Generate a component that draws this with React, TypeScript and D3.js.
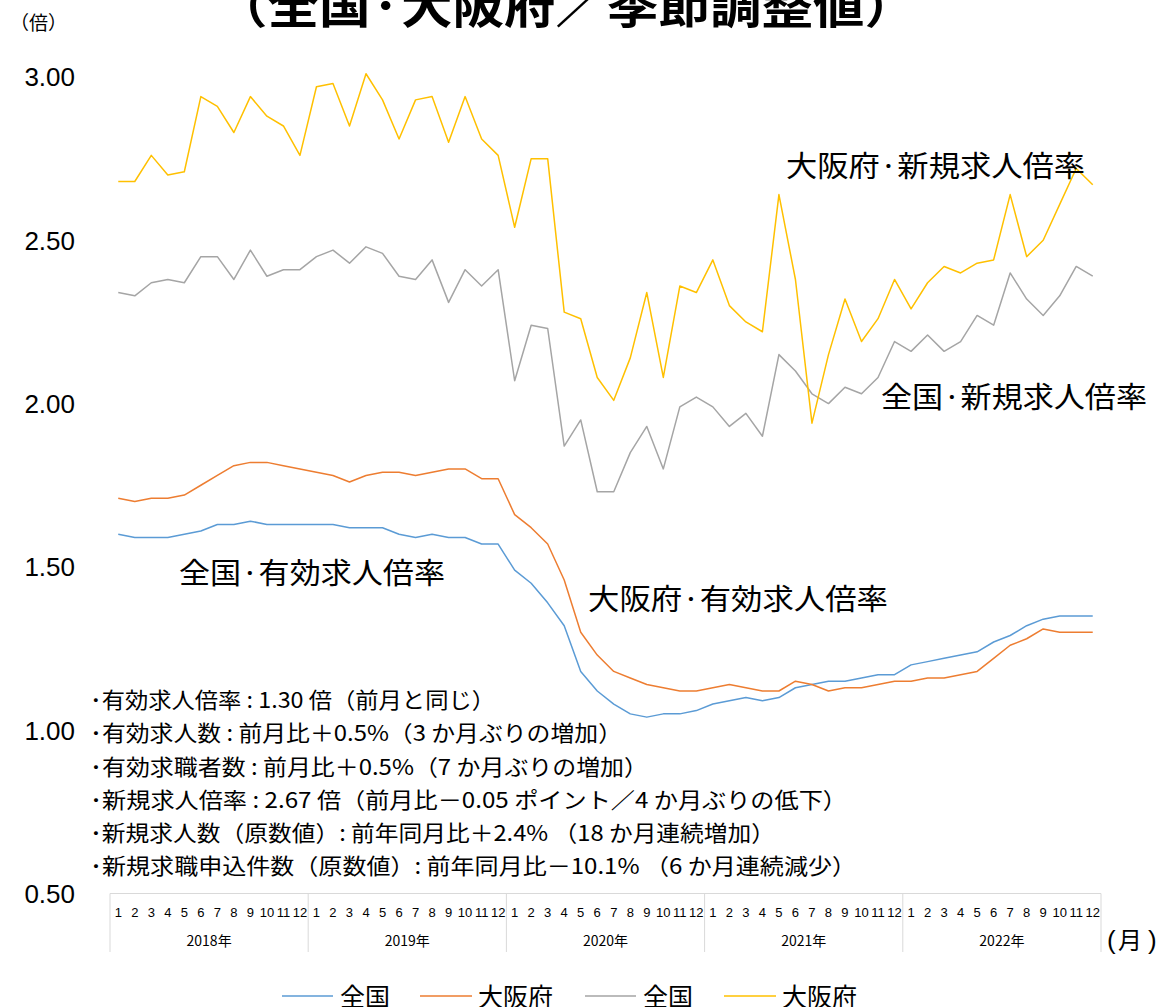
import React from "react";
import * as d3 from "d3";

const years = ["2018年", "2019年", "2020年", "2021年", "2022年"];
const monthLabels = ["1", "2", "3", "4", "5", "6", "7", "8", "9", "10", "11", "12"];
const yTicks = [0.5, 1.0, 1.5, 2.0, 2.5, 3.0];

const nationalEffective = [
  1.60, 1.59, 1.59, 1.59, 1.60, 1.61, 1.63, 1.63, 1.64, 1.63, 1.63, 1.63,
  1.63, 1.63, 1.62, 1.62, 1.62, 1.60, 1.59, 1.60, 1.59, 1.59, 1.57, 1.57,
  1.49, 1.45, 1.39, 1.32, 1.18, 1.12, 1.08, 1.05, 1.04, 1.05, 1.05, 1.06,
  1.08, 1.09, 1.10, 1.09, 1.10, 1.13, 1.14, 1.15, 1.15, 1.16, 1.17, 1.17,
  1.20, 1.21, 1.22, 1.23, 1.24, 1.27, 1.29, 1.32, 1.34, 1.35, 1.35, 1.35,
];
const osakaEffective = [
  1.71, 1.70, 1.71, 1.71, 1.72, 1.75, 1.78, 1.81, 1.82, 1.82, 1.81, 1.80,
  1.79, 1.78, 1.76, 1.78, 1.79, 1.79, 1.78, 1.79, 1.80, 1.80, 1.77, 1.77,
  1.66, 1.62, 1.57, 1.46, 1.30, 1.23, 1.18, 1.16, 1.14, 1.13, 1.12, 1.12,
  1.13, 1.14, 1.13, 1.12, 1.12, 1.15, 1.14, 1.12, 1.13, 1.13, 1.14, 1.15,
  1.15, 1.16, 1.16, 1.17, 1.18, 1.22, 1.26, 1.28, 1.31, 1.30, 1.30, 1.30,
];
const nationalNew = [
  2.34, 2.33, 2.37, 2.38, 2.37, 2.45, 2.45, 2.38, 2.47, 2.39, 2.41, 2.41,
  2.45, 2.47, 2.43, 2.48, 2.46, 2.39, 2.38, 2.44, 2.31, 2.41, 2.36, 2.41,
  2.07, 2.24, 2.23, 1.87, 1.95, 1.73, 1.73, 1.85, 1.93, 1.80, 1.99, 2.02,
  1.99, 1.93, 1.97, 1.90, 2.15, 2.10, 2.03, 2.00, 2.05, 2.03, 2.08, 2.19,
  2.16, 2.21, 2.16, 2.19, 2.27, 2.24, 2.40, 2.32, 2.27, 2.33, 2.42, 2.39,
];
const osakaNew = [
  2.68, 2.68, 2.76, 2.70, 2.71, 2.94, 2.91, 2.83, 2.94, 2.88, 2.85, 2.76,
  2.97, 2.98, 2.85, 3.01, 2.93, 2.81, 2.93, 2.94, 2.80, 2.94, 2.81, 2.76,
  2.54, 2.75, 2.75, 2.28, 2.26, 2.08, 2.01, 2.14, 2.34, 2.08, 2.36, 2.34,
  2.44, 2.30, 2.25, 2.22, 2.64, 2.38, 1.94, 2.15, 2.32, 2.19, 2.26, 2.38,
  2.29, 2.37, 2.42, 2.40, 2.43, 2.44, 2.64, 2.45, 2.50, 2.61, 2.72, 2.67,
];

const seriesNames = ["全国", "大阪府", "全国", "大阪府"];
const seriesColors = ["#5B9BD5", "#ED7D31", "#A5A5A5", "#FFC000"];
const seriesData = [nationalEffective, osakaEffective, nationalNew, osakaNew];

const bulletLines = [
  "･有効求人倍率 : 1.30 倍（前月と同じ）",
  "･有効求人数 : 前月比＋0.5%（3 か月ぶりの増加）",
  "･有効求職者数 : 前月比＋0.5%（7 か月ぶりの増加）",
  "･新規求人倍率 : 2.67 倍（前月比－0.05 ポイント／4 か月ぶりの低下）",
  "･新規求人数（原数値）: 前年同月比＋2.4% （18 か月連続増加）",
  "･新規求職申込件数（原数値）: 前年同月比－10.1% （6 か月連続減少）",
];
const bulletWidths = [405, 532, 558, 757, 685, 766];

const W = 1170;
const H = 1007;
const JP = "'Noto Sans CJK JP', 'Noto Sans', sans-serif";
const NUM = "'Liberation Sans', Arial, sans-serif";

export default function App() {
  const n = years.length * 12;
  const idx = d3.range(n);
  const x = d3.scaleBand<number>().domain(idx).range([110, 1101]).padding(0);
  const bw = x.bandwidth();
  const cx = (i: number) => (x(i) as number) + bw / 2;
  const y = d3.scaleLinear().domain([0.5, 3.0]).range([893.5, 77]);
  const line = (arr: number[]) =>
    d3.line<number>().x((_, i) => cx(i)).y((d) => y(d))(arr) || "";

  const axisTop = y(0.5);
  const axisBottom = 952;
  const legendItems = [
    { x1: 282, x2: 333, tx: 340 },
    { x1: 420, x2: 472, tx: 478 },
    { x1: 585, x2: 636, tx: 643 },
    { x1: 724, x2: 776, tx: 782 },
  ];

  return (
    <svg
      width={W}
      height={H}
      style={{ position: "absolute", left: 0, top: 0, background: "#fff" }}
    >
      <rect x={0} y={0} width={W} height={H} fill="#fff" />
      {/* title (cut off at top) */}
      <text
        x={216}
        y={23}
        fontFamily={JP}
        fontSize={47}
        fontWeight={700}
        fill="#000"
        textLength={700}
        lengthAdjust="spacingAndGlyphs"
      >
        （全国·大阪府／季節調整値）
      </text>
      <text x={10} y={30} fontFamily={JP} fontSize={19} fill="#000">
        （倍）
      </text>

      {/* y tick labels */}
      {yTicks.map((t) => (
        <text
          key={t}
          x={75}
          y={y(t)}
          dy="0.36em"
          textAnchor="end"
          fontFamily={NUM}
          fontSize={26}
          fill="#000"
        >
          {t.toFixed(2)}
        </text>
      ))}

      {/* category axis */}
      <line x1={110} x2={1101} y1={axisTop} y2={axisTop} stroke="#d9d9d9" strokeWidth={1} />
      {d3.range(years.length + 1).map((k) => {
        const xx = k < years.length ? (x(k * 12) as number) : 1101;
        return (
          <line
            key={"v" + k}
            x1={xx}
            x2={xx}
            y1={axisTop}
            y2={axisBottom}
            stroke="#d9d9d9"
            strokeWidth={1}
          />
        );
      })}
      {idx.map((i) => (
        <text
          key={"m" + i}
          x={cx(i)}
          y={912}
          dy="0.36em"
          textAnchor="middle"
          fontFamily={NUM}
          fontSize={13}
          fill="#000"
        >
          {monthLabels[i % 12]}
        </text>
      ))}
      {years.map((yr, k) => (
        <text
          key={yr}
          x={((x(k * 12) as number) + (x(k * 12 + 11) as number) + bw) / 2}
          y={941}
          dy="0.37em"
          textAnchor="middle"
          fontFamily={JP}
          fontSize={14}
          fill="#000"
        >
          {yr}
        </text>
      ))}
      <text x={1107} y={940} dy="0.36em" fontFamily={NUM} fontSize={26} fill="#000">
        (
      </text>
      <text x={1118} y={940} dy="0.38em" fontFamily={JP} fontSize={24} fill="#000">
        月
      </text>
      <text x={1148} y={940} dy="0.36em" fontFamily={NUM} fontSize={26} fill="#000">
        )
      </text>

      {/* series lines */}
      {seriesData.map((arr, k) => (
        <path
          key={"s" + k}
          d={line(arr)}
          fill="none"
          stroke={seriesColors[k]}
          strokeWidth={1.5}
          strokeLinejoin="round"
        />
      ))}

      {/* annotations */}
      <text x={786} y={166} dy="0.38em" fontFamily={JP} fontSize={29} fill="#000" textLength={299} lengthAdjust="spacingAndGlyphs">
        大阪府·新規求人倍率
      </text>
      <text x={881} y={397} dy="0.38em" fontFamily={JP} fontSize={29} fill="#000" textLength={266} lengthAdjust="spacingAndGlyphs">
        全国·新規求人倍率
      </text>
      <text x={179} y={573} dy="0.38em" fontFamily={JP} fontSize={29} fill="#000" textLength={266} lengthAdjust="spacingAndGlyphs">
        全国·有効求人倍率
      </text>
      <text x={588} y={599} dy="0.38em" fontFamily={JP} fontSize={29} fill="#000" textLength={300} lengthAdjust="spacingAndGlyphs">
        大阪府·有効求人倍率
      </text>

      {/* bullet notes */}
      {bulletLines.map((s, k) => (
        <text
          key={"b" + k}
          x={90}
          y={700 + k * 33.1}
          dy="0.38em"
          fontFamily={JP}
          fontSize={22}
          fill="#000"
          textLength={bulletWidths[k]}
          lengthAdjust="spacingAndGlyphs"
        >
          {s}
        </text>
      ))}

      {/* legend */}
      {legendItems.map((it, k) => (
        <g key={"l" + k}>
          <line x1={it.x1} x2={it.x2} y1={996} y2={996} stroke={seriesColors[k]} strokeWidth={1.5} />
          <text x={it.tx} y={996} dy="0.38em" fontFamily={JP} fontSize={25} fill="#000">
            {seriesNames[k]}
          </text>
        </g>
      ))}
    </svg>
  );
}
